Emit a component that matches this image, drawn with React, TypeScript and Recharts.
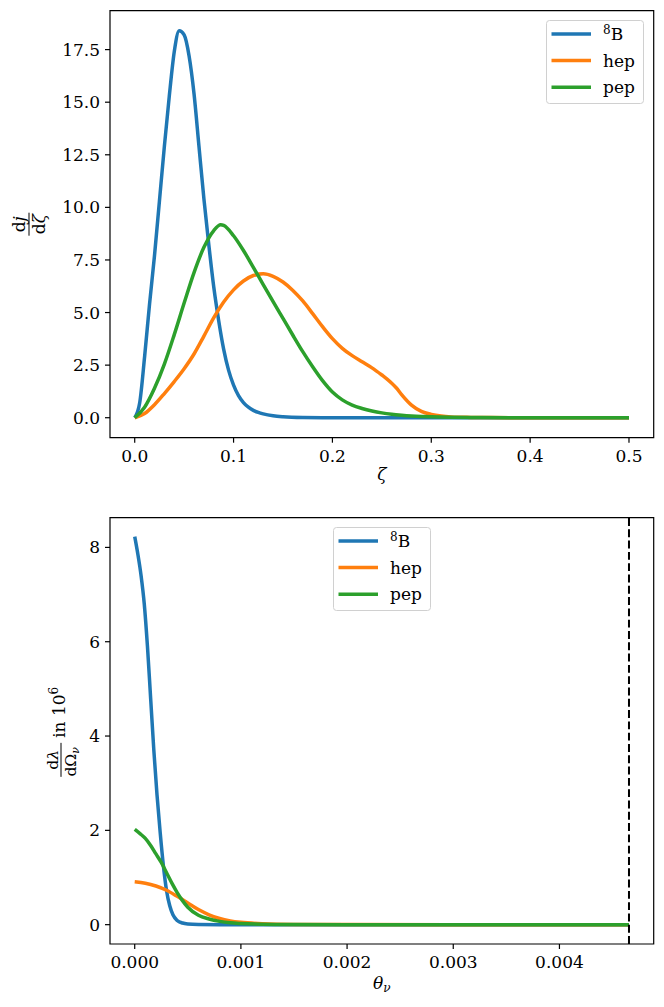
import React from 'react';
import { LineChart, Line, XAxis, YAxis, ReferenceArea, ReferenceLine, Legend } from 'recharts';

const FONT = '"DejaVu Serif", serif';
const C_B8 = '#1f77b4';
const C_HEP = '#ff7f0e';
const C_PEP = '#2ca02c';

// ---------- top panel: dj/dζ vs ζ ----------
const zetaB8 = [0, 0.005, 0.01, 0.015, 0.02, 0.025, 0.03, 0.035, 0.04, 0.045, 0.05, 0.055, 0.06, 0.065, 0.07, 0.075, 0.08, 0.085, 0.09, 0.095, 0.1, 0.105, 0.11, 0.115, 0.12, 0.125, 0.13, 0.14, 0.15, 0.17, 0.2, 0.3, 0.4, 0.5];
const djB8 = [0, 0.7, 2.9, 5.4, 7.7, 10.3, 12.9, 15.3, 17.4, 18.4, 18.2, 17.2, 15.4, 12.9, 10.4, 8.2, 6.2, 4.6, 3.25, 2.25, 1.55, 1.05, 0.72, 0.5, 0.35, 0.25, 0.18, 0.09, 0.045, 0.01, 0, 0, 0, 0];

const zetaHep = [0, 0.01, 0.02, 0.03, 0.04, 0.05, 0.06, 0.07, 0.08, 0.09, 0.1, 0.11, 0.12, 0.13, 0.14, 0.15, 0.16, 0.17, 0.18, 0.19, 0.2, 0.21, 0.22, 0.23, 0.24, 0.25, 0.255, 0.26, 0.265, 0.27, 0.28, 0.29, 0.3, 0.31, 0.32, 0.34, 0.36, 0.4, 0.5];
const djHep = [0, 0.2, 0.62, 1.15, 1.72, 2.33, 3.03, 3.88, 4.76, 5.5, 6.08, 6.5, 6.76, 6.84, 6.72, 6.45, 6.05, 5.55, 4.95, 4.33, 3.76, 3.3, 2.95, 2.66, 2.37, 2.03, 1.85, 1.64, 1.4, 1.1, 0.6, 0.3, 0.16, 0.08, 0.04, 0.015, 0.005, 0, 0];

const zetaPep = [0, 0.01, 0.02, 0.03, 0.04, 0.05, 0.06, 0.07, 0.08, 0.087, 0.09, 0.1, 0.11, 0.12, 0.13, 0.14, 0.15, 0.16, 0.17, 0.18, 0.19, 0.2, 0.21, 0.22, 0.23, 0.24, 0.25, 0.26, 0.27, 0.28, 0.29, 0.3, 0.32, 0.35, 0.4, 0.5];
const djPep = [0, 0.5, 1.4, 2.55, 3.95, 5.45, 6.9, 8.1, 8.9, 9.17, 9.14, 8.65, 7.95, 7.15, 6.33, 5.52, 4.72, 3.92, 3.14, 2.42, 1.76, 1.22, 0.85, 0.6, 0.44, 0.32, 0.23, 0.165, 0.12, 0.085, 0.06, 0.042, 0.02, 0.006, 0, 0];

const topXTicks = [0, 0.1, 0.2, 0.3, 0.4, 0.5];
const topYTicks = [0, 2.5, 5, 7.5, 10, 12.5, 15, 17.5];
const topXDomain = [-0.025, 0.525];
const topYDomain = [-0.95, 19.35];

// ---------- bottom panel: dλ/dΩν vs θν ----------
const thetaB8 = [0, 0.00003, 0.00006, 0.00009, 0.00012, 0.00015, 0.00018, 0.00021, 0.00024, 0.00027, 0.0003, 0.00033, 0.00036, 0.0004, 0.00045, 0.0005, 0.0006, 0.0008, 0.001, 0.002, 0.003, 0.004, 0.004655];
const lamB8 = [8.23, 7.85, 7.4, 6.8, 5.9, 4.8, 3.7, 2.75, 1.95, 1.25, 0.72, 0.4, 0.21, 0.09, 0.035, 0.015, 0.004, 0, 0, 0, 0, 0, 0];

const thetaHep = [0, 0.0001, 0.0002, 0.0003, 0.0004, 0.0005, 0.0006, 0.0007, 0.0008, 0.0009, 0.001, 0.0012, 0.0015, 0.002, 0.003, 0.004, 0.004655];
const lamHep = [0.91, 0.88, 0.82, 0.73, 0.6, 0.46, 0.32, 0.21, 0.13, 0.08, 0.05, 0.02, 0.005, 0.001, 0, 0, 0];

const thetaPep = [0, 0.00005, 0.0001, 0.00015, 0.0002, 0.00025, 0.0003, 0.00035, 0.0004, 0.00045, 0.0005, 0.0006, 0.0007, 0.0008, 0.0009, 0.001, 0.0012, 0.0015, 0.002, 0.003, 0.004, 0.004655];
const lamPep = [2.02, 1.93, 1.83, 1.68, 1.5, 1.32, 1.1, 0.88, 0.68, 0.51, 0.37, 0.2, 0.12, 0.07, 0.04, 0.025, 0.01, 0.003, 0, 0, 0, 0];

const thetaMax = 0.004655;
const botXTicks = [0, 0.001, 0.002, 0.003, 0.004];
const botYTicks = [0, 2, 4, 6, 8];
const botXDomain = [-0.00023275, 0.00488775];
const botYDomain = [-0.41, 8.63];

const seriesNames = ['B8', 'hep', 'pep'];
const seriesColors = [C_B8, C_HEP, C_PEP];

const zip = (xs: number[], ys: number[]) => xs.map((x, i) => ({ x, y: ys[i] }));

const topB8 = zip(zetaB8, djB8);
const topHep = zip(zetaHep, djHep);
const topPep = zip(zetaPep, djPep);
const botB8 = zip(thetaB8, lamB8);
const botHep = zip(thetaHep, lamHep);
const botPep = zip(thetaPep, lamPep);

const LW = 3.5;
const tickStyle = { fill: '#000', fontSize: 17, fontFamily: FONT };

const LegendBox = () => (
  <svg width={98} height={84} style={{ display: 'block', overflow: 'visible' }}>
    <rect x={0.5} y={0.5} width={97} height={83} rx={3} ry={3} fill="#fff" fillOpacity={0.8} stroke="#d0d0d0" strokeWidth={1} />
    {seriesNames.map((name, i) => {
      const y = 14 + i * 26.6;
      return (
        <g key={name}>
          <line x1={5.5} x2={45} y1={y} y2={y} stroke={seriesColors[i]} strokeWidth={LW} />
          <text x={57} y={y + 6} fontFamily={FONT} fontSize={17} fill="#000">
            {name === 'B8' ? (
              <>
                <tspan fontSize={12} dy={-6}>8</tspan>
                <tspan dy={6}>B</tspan>
              </>
            ) : name}
          </text>
        </g>
      );
    })}
  </svg>
);

const topYLabel = (props: any) => {
  const vb = props.viewBox || {};
  const cy = (vb.y ?? 0) + (vb.height ?? 0) / 2;
  const cx = 29;
  return (
    <g transform={`translate(${cx},${cy}) rotate(-90)`} fontFamily={FONT} fill="#000">
      <text x={0} y={-4} textAnchor="middle" fontSize={17}>d<tspan fontStyle="italic">j</tspan></text>
      <line x1={-11.5} x2={11.5} y1={0} y2={0} stroke="#000" strokeWidth={1} />
      <text x={0} y={15.5} textAnchor="middle" fontSize={17}>d<tspan fontStyle="italic">ζ</tspan></text>
    </g>
  );
};

const botYLabel = (props: any) => {
  const vb = props.viewBox || {};
  const cy = (vb.y ?? 0) + (vb.height ?? 0) / 2;
  const cx = 61;
  return (
    <g transform={`translate(${cx},${cy}) rotate(-90)`} fontFamily={FONT} fill="#000">
      <text x={-29} y={-3.5} textAnchor="middle" fontSize={15.5}>d<tspan fontStyle="italic">λ</tspan></text>
      <line x1={-46} x2={-12} y1={0} y2={0} stroke="#000" strokeWidth={1} />
      <text x={-31} y={14.5} textAnchor="middle" fontSize={15.5}>dΩ<tspan fontStyle="italic" fontSize={11} dy={3}>ν</tspan></text>
      <text x={-7} y={3.5} fontSize={17}>in 10<tspan fontSize={12} dy={-7}>6</tspan></text>
    </g>
  );
};

const topXLabel = (props: any) => {
  const vb = props.viewBox || {};
  const cx = (vb.x ?? 0) + (vb.width ?? 0) / 2;
  const y = (vb.y ?? 0) + 42.3;
  return (
    <text x={cx} y={y} textAnchor="middle" fontFamily={FONT} fontSize={17} fontStyle="italic" fill="#000">ζ</text>
  );
};

const botXLabel = (props: any) => {
  const vb = props.viewBox || {};
  const cx = (vb.x ?? 0) + (vb.width ?? 0) / 2;
  const y = (vb.y ?? 0) + 45;
  return (
    <text x={cx} y={y} textAnchor="middle" fontFamily={FONT} fontSize={17} fontStyle="italic" fill="#000">
      θ<tspan fontSize={12} dy={3}>ν</tspan>
    </text>
  );
};

export default function App() {
  return (
    <div style={{ position: 'absolute', left: 0, top: 0, width: 664, height: 1007, background: '#fff' }}>
      <div style={{ position: 'absolute', left: 0, top: 0 }}>
        <LineChart width={664} height={500} margin={{ top: 10.7, right: 10.3, left: 0, bottom: 0 }}>
          <XAxis
            type="number"
            dataKey="x"
            domain={topXDomain}
            ticks={topXTicks}
            allowDataOverflow
            height={62.3}
            axisLine={false}
            tickSize={5}
            tickMargin={7}
            tickLine={{ stroke: '#000', strokeWidth: 1.2 }}
            tick={tickStyle}
            tickFormatter={(v: number) => v.toFixed(1)}
            label={topXLabel}
          />
          <YAxis
            type="number"
            domain={topYDomain}
            ticks={topYTicks}
            allowDataOverflow
            width={110}
            axisLine={false}
            tickSize={5}
            tickMargin={5}
            tickLine={{ stroke: '#000', strokeWidth: 1.2 }}
            tick={tickStyle}
            tickFormatter={(v: number) => v.toFixed(1)}
            label={topYLabel}
          />
          <Line data={topB8} dataKey="y" name="B8" type="monotone" stroke={C_B8} strokeWidth={LW} dot={false} isAnimationActive={false} />
          <Line data={topHep} dataKey="y" name="hep" type="monotone" stroke={C_HEP} strokeWidth={LW} dot={false} isAnimationActive={false} />
          <Line data={topPep} dataKey="y" name="pep" type="monotone" stroke={C_PEP} strokeWidth={LW} dot={false} isAnimationActive={false} />
          <ReferenceArea x1={topXDomain[0]} x2={topXDomain[1]} y1={topYDomain[0]} y2={topYDomain[1]} fill="none" fillOpacity={0} stroke="#000" strokeWidth={1.2} ifOverflow="visible" />
          <Legend
            layout="vertical"
            align="center"
            verticalAlign="middle"
            content={() => <LegendBox />}
            wrapperStyle={{ left: 546, top: 20, width: 98, height: 84 }}
          />
        </LineChart>
      </div>
      <div style={{ position: 'absolute', left: 0, top: 500 }}>
        <LineChart width={664} height={507} margin={{ top: 17.7, right: 10.3, left: 0, bottom: 0 }}>
          <XAxis
            type="number"
            dataKey="x"
            domain={botXDomain}
            ticks={botXTicks}
            allowDataOverflow
            height={63}
            axisLine={false}
            tickSize={5}
            tickMargin={7}
            tickLine={{ stroke: '#000', strokeWidth: 1.2 }}
            tick={tickStyle}
            tickFormatter={(v: number) => v.toFixed(3)}
            label={botXLabel}
          />
          <YAxis
            type="number"
            domain={botYDomain}
            ticks={botYTicks}
            allowDataOverflow
            width={110}
            axisLine={false}
            tickSize={5}
            tickMargin={5}
            tickLine={{ stroke: '#000', strokeWidth: 1.2 }}
            tick={tickStyle}
            tickFormatter={(v: number) => String(v)}
            label={botYLabel}
          />
          <Line data={botB8} dataKey="y" name="B8" type="monotone" stroke={C_B8} strokeWidth={LW} dot={false} isAnimationActive={false} />
          <Line data={botHep} dataKey="y" name="hep" type="monotone" stroke={C_HEP} strokeWidth={LW} dot={false} isAnimationActive={false} />
          <Line data={botPep} dataKey="y" name="pep" type="monotone" stroke={C_PEP} strokeWidth={LW} dot={false} isAnimationActive={false} />
          <ReferenceLine x={thetaMax} stroke="#000" strokeWidth={2} strokeDasharray="7.9 3.4" ifOverflow="visible" />
          <ReferenceArea x1={botXDomain[0]} x2={botXDomain[1]} y1={botYDomain[0]} y2={botYDomain[1]} fill="none" fillOpacity={0} stroke="#000" strokeWidth={1.2} ifOverflow="visible" />
          <Legend
            layout="vertical"
            align="center"
            verticalAlign="middle"
            content={() => <LegendBox />}
            wrapperStyle={{ left: 332.7, top: 27.3, width: 98, height: 84 }}
          />
        </LineChart>
      </div>
    </div>
  );
}
